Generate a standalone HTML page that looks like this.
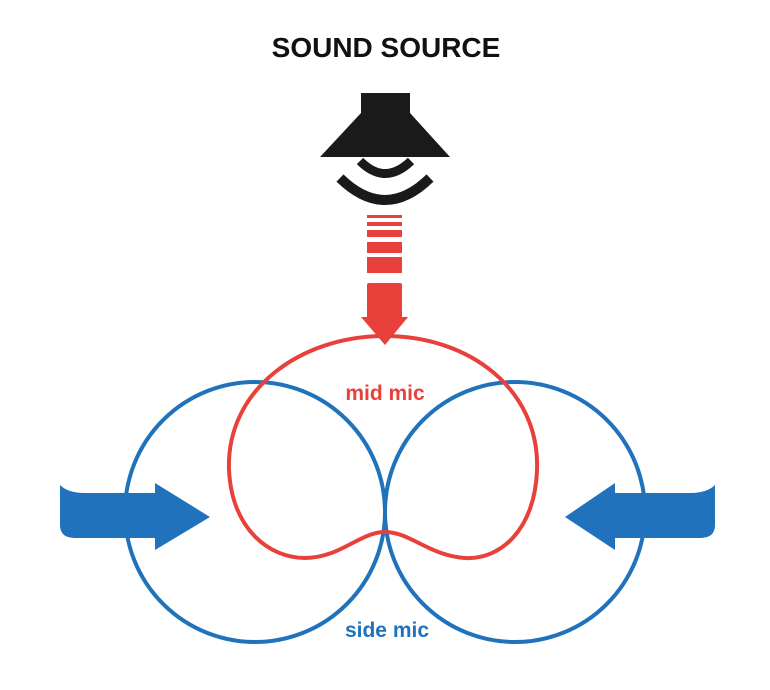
<!DOCTYPE html>
<html><head><style>html,body{margin:0;padding:0;background:#fff;width:770px;height:690px;overflow:hidden}</style></head>
<body>
<svg width="770" height="690" xmlns="http://www.w3.org/2000/svg">
<text x="386" y="57" text-anchor="middle" font-family="Liberation Sans, sans-serif" font-weight="bold" font-size="28" fill="#111">SOUND SOURCE</text>
<polygon points="361,93 410,93 410,113 450,157 320,157 361,113" fill="#1a1a1a"/>
<path d="M360,161 Q385,186 411,161" stroke="#1a1a1a" stroke-width="9" fill="none"/>
<path d="M340,178 Q385,222 430,178" stroke="#1a1a1a" stroke-width="10" fill="none"/>
<g fill="#e8403a">
<rect x="367" y="215" width="35" height="3"/>
<rect x="367" y="222" width="35" height="4"/>
<rect x="367" y="230" width="35" height="7"/>
<rect x="367" y="242" width="35" height="11"/>
<rect x="367" y="257" width="35" height="16"/>
<rect x="367" y="283" width="35" height="36" rx="2"/>
<polygon points="361,317 408,317 385,345"/>
</g>
<circle cx="255" cy="512" r="130" fill="none" stroke="#1f72bb" stroke-width="4"/>
<circle cx="515" cy="512" r="130" fill="none" stroke="#1f72bb" stroke-width="4"/>
<path d="M385,336 C470,336 540,390 537,470 C535,530 500,560 465,558 C430,556 410,532 385,532 C360,532 340,558 305,558 C270,558 232,530 229,470 C226,390 300,336 385,336Z" fill="none" stroke="#e8403a" stroke-width="4"/>
<g fill="#1f72bb">
<path d="M60,485 Q68,493 85,493 L155,493 L155,483 L210,517 L155,550 L155,538 L75,538 Q60,538 60,525 Z"/>
<path d="M715,485 Q707,493 690,493 L615,493 L615,483 L565,517 L615,550 L615,538 L700,538 Q715,538 715,525 Z"/>
</g>
<text x="385" y="400" text-anchor="middle" font-family="Liberation Sans, sans-serif" font-weight="bold" font-size="21" fill="#e8403a">mid mic</text>
<text x="387" y="637" text-anchor="middle" font-family="Liberation Sans, sans-serif" font-weight="bold" font-size="21" fill="#1f72bb">side mic</text>
</svg>
</body></html>
